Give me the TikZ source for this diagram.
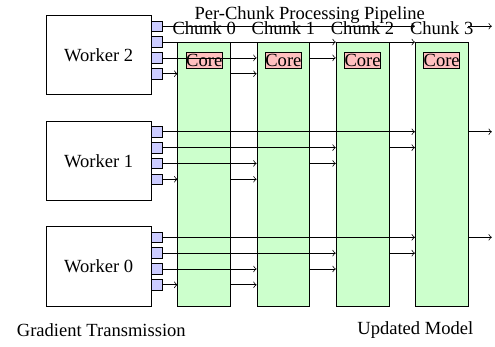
\documentclass[tikz,border=0pt]{standalone}
\usepackage{fontspec}
\setmainfont{Liberation Serif}
\usepackage{xcolor}
\usepackage{tikz}
\usetikzlibrary{positioning, calc}

\begin{document}
\begin{tikzpicture}[
    worker/.style={draw, minimum width=2cm, minimum height=1.5cm},
    port/.style={draw, fill=blue!20, minimum size=0.2cm, inner sep=0pt},
    chunk/.style={draw, fill=green!20, minimum width=1cm, minimum height=5cm},
    core/.style={draw, fill=red!25, inner xsep=0pt, inner ysep=1pt}
]

\useasboundingbox (-1.87,-1.525) rectangle (7.51,5.047);

% Workers
\node[worker] (w2) at (0,4) {Worker 2};
\node[worker] (w1) at (0,2) {Worker 1};
\node[worker] (w0) at (0,0) {Worker 0};

% Ports (one per chunk, top = chunk 3)
\node[port] (w2p3) at (1.1,4.55) {};
\node[port] (w2p2) at (1.1,4.25) {};
\node[port] (w2p1) at (1.1,3.95) {};
\node[port] (w2p0) at (1.1,3.65) {};

\node[port] (w1p3) at (1.1,2.55) {};
\node[port] (w1p2) at (1.1,2.25) {};
\node[port] (w1p1) at (1.1,1.95) {};
\node[port] (w1p0) at (1.1,1.65) {};

\node[port] (w0p3) at (1.1,0.55) {};
\node[port] (w0p2) at (1.1,0.25) {};
\node[port] (w0p1) at (1.1,-0.05) {};
\node[port] (w0p0) at (1.1,-0.35) {};

% Chunks
\node[chunk] (ch0) at (2,1.75) {};
\node[chunk] (ch1) at (3.5,1.75) {};
\node[chunk] (ch2) at (5,1.75) {};
\node[chunk] (ch3) at (6.5,1.75) {};

\node[core, below=0.2cm of ch0.north] (core0) {Core};
\node[core, below=0.2cm of ch1.north] (core1) {Core};
\node[core, below=0.2cm of ch2.north] (core2) {Core};
\node[core, below=0.2cm of ch3.north] (core3) {Core};

\node[above] (lbl0) at (ch0.north) {Chunk 0};
\node[above] (lbl1) at (ch1.north) {Chunk 1};
\node[above] (lbl2) at (ch2.north) {Chunk 2};
\node[above] (lbl3) at (ch3.north) {Chunk 3};

% Title
\node (title) at (4,4.77) {Per-Chunk Processing Pipeline};

% Ports to chunks
\draw[->] (w2p0) -- (w2p0 -| ch0.west);
\draw[->] (w2p1) -- (w2p1 -| ch1.west);
\draw[->] (w2p2) -- (w2p2 -| ch2.west);
\draw[->] (w2p3) -- (w2p3 -| ch3.west);

\draw[->] (w1p0) -- (w1p0 -| ch0.west);
\draw[->] (w1p1) -- (w1p1 -| ch1.west);
\draw[->] (w1p2) -- (w1p2 -| ch2.west);
\draw[->] (w1p3) -- (w1p3 -| ch3.west);

\draw[->] (w0p0) -- (w0p0 -| ch0.west);
\draw[->] (w0p1) -- (w0p1 -| ch1.west);
\draw[->] (w0p2) -- (w0p2 -| ch2.west);
\draw[->] (w0p3) -- (w0p3 -| ch3.west);

% Chunk to chunk
\draw[->] (w2p0 -| ch0.east) -- (w2p0 -| ch1.west);
\draw[->] (w2p1 -| ch1.east) -- (w2p1 -| ch2.west);
\draw[->] (w2p2 -| ch2.east) -- (w2p2 -| ch3.west);

\draw[->] (w1p0 -| ch0.east) -- (w1p0 -| ch1.west);
\draw[->] (w1p1 -| ch1.east) -- (w1p1 -| ch2.west);
\draw[->] (w1p2 -| ch2.east) -- (w1p2 -| ch3.west);

\draw[->] (w0p0 -| ch0.east) -- (w0p0 -| ch1.west);
\draw[->] (w0p1 -| ch1.east) -- (w0p1 -| ch2.west);
\draw[->] (w0p2 -| ch2.east) -- (w0p2 -| ch3.west);

% Outputs
\coordinate (out2) at (7.45,4.55);
\coordinate (out1) at (7.45,2.55);
\coordinate (out0) at (7.45,0.55);
\draw[->] (w2p3 -| ch3.east) -- (out2);
\draw[->] (w1p3 -| ch3.east) -- (out1);
\draw[->] (w0p3 -| ch3.east) -- (out0);

% Labels below
\node (gradlbl) at (0.05,-1.2) {Gradient Transmission};
\node (updlbl) at (6,-1.2) {Updated Model};

\end{tikzpicture}
\end{document}
